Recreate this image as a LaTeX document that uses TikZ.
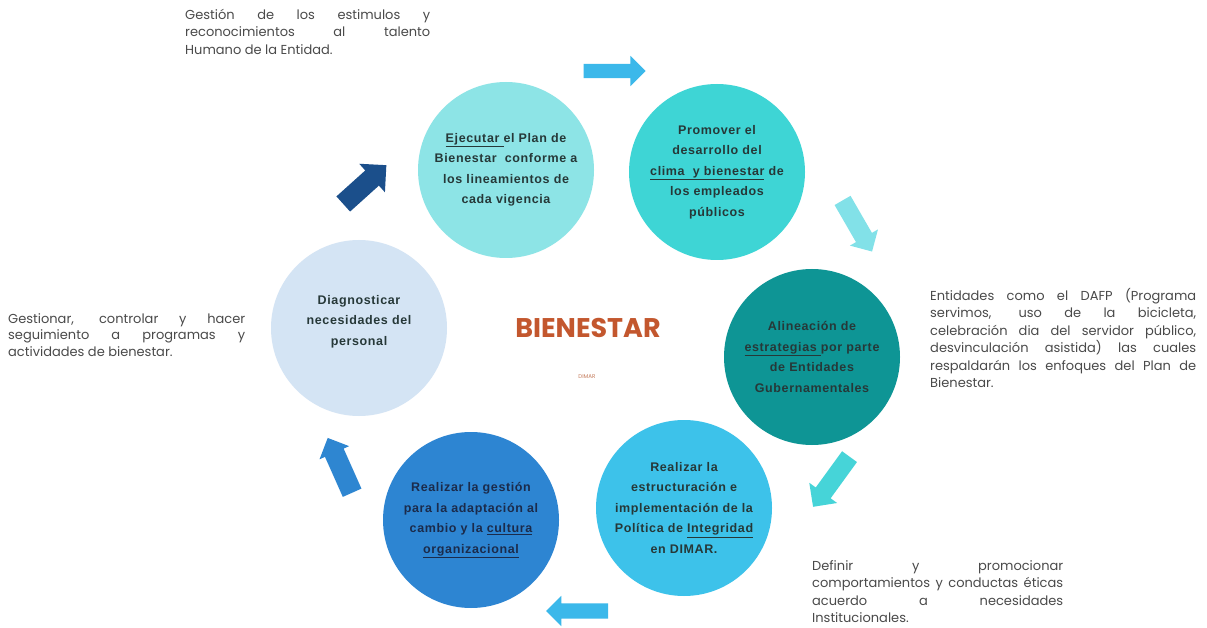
\documentclass[tikz,border=0pt]{standalone}
\usepackage{fontspec}
\setmainfont{Liberation Sans}
\newfontfamily\circfont{Liberation Sans}[LetterSpace=5]
\newfontfamily\sidefont{Poppins}
\usetikzlibrary{shapes.arrows}

\definecolor{cEjec}{HTML}{8DE4E6}
\definecolor{cProm}{HTML}{3ED5D5}
\definecolor{cAlin}{HTML}{0E9595}
\definecolor{cEstr}{HTML}{3DC2EA}
\definecolor{cGest}{HTML}{2D85D2}
\definecolor{cDiag}{HTML}{D4E4F4}
\definecolor{cText}{HTML}{263838}
\definecolor{cGestText}{HTML}{1B2B4B}
\definecolor{cBien}{HTML}{C3572E}
\definecolor{cDimar}{HTML}{C47A5A}
\definecolor{cSide}{HTML}{4A4A4A}
\definecolor{aTop}{HTML}{3BB8EA}
\definecolor{aDark}{HTML}{1B4F8B}
\definecolor{aRT}{HTML}{82E1E8}
\definecolor{aRB}{HTML}{46D4D8}
\definecolor{aLeft}{HTML}{2E86D1}

\newcommand\jline[2]{\makebox[#1][s]{#2}}

\begin{document}
\begin{tikzpicture}[x=1pt, y=-1pt,
    bubble/.style={circle, minimum size=176pt, inner sep=0pt, align=center,
        font=\circfont\bfseries\fontsize{12.5}{20.5}\selectfont, text=cText},
    blockarrow/.style n args={3}{single arrow, minimum height=#1, inner xsep=0pt,
        inner ysep=#2/2, single arrow head extend=(#3-#2)/2},
    side/.style={anchor=north west, inner sep=0pt, align=left, text=cSide,
        font=\sidefont\fontsize{13}{17.5}\selectfont}]
    \fill[white] (0,0) rectangle (1207,628);
    \useasboundingbox (0,0) rectangle (1207,628);

    \node[bubble, fill=cEjec] (ejec) at (506,170)
        {\underline{Ejecutar\ }el Plan de\\Bienestar\ \ conforme a\\los lineamientos de\\cada vigencia};
    \node[bubble, fill=cProm] (prom) at (717,172)
        {Promover el\\desarrollo del\\\underline{clima\ \ y bienestar} de\\los empleados\\públicos};
    \node[bubble, fill=cAlin] (alin) at (812,357)
        {Alineación de\\\underline{estrategias\ }por parte\\de Entidades\\Gubernamentales};
    \node[bubble, fill=cEstr] (estr) at (684,508)
        {Realizar la\\estructuración e\\implementación de la\\Política de \underline{Integridad}\\en DIMAR.};
    \node[bubble, fill=cGest, text=cGestText] (gest) at (471,520)
        {Realizar la gestión\\para la adaptación al\\cambio y la \underline{cultura}\\\underline{organizacional}};
    \node[bubble, fill=cDiag] (diag) at (359,328)
        {Diagnosticar\\necesidades del\\personal\\[-4.5pt]};

    \node[text=cBien, font=\sidefont\bfseries\fontsize{27}{27}\selectfont] (bien) at (588,328) {BIENESTAR};
    \node[text=cDimar, font=\sidefont\fontsize{5.5}{5.5}\selectfont] (dimar) at (587,377) {DIMAR};

    \node[blockarrow={62}{14}{30}, fill=aTop] (arTop) at (611,71) {};
    \node[blockarrow={58}{20}{38}, fill=aDark, rotate=42] (arDark) at (361,188) {};
    \node[blockarrow={59}{18}{32}, fill=aRT, rotate=-60] (arRT) at (855,222) {};
    \node[blockarrow={62}{18}{34}, fill=aRB, rotate=-126] (arRB) at (834,478) {};
    \node[blockarrow={62}{15}{30}, fill=aTop, rotate=180] (arBot) at (581,611) {};
    \node[blockarrow={60}{20}{32}, fill=aLeft, rotate=114] (arLeft) at (342,470) {};

    \node[side] (txtTop) at (185,9)
        {\jline{245pt}{Gestión de los estimulos y}\\
         \jline{245pt}{reconocimientos al talento}\\
         Humano de la Entidad.};
    \node[side, font=\sidefont\fontsize{13}{16.5}\selectfont] (txtLeft) at (8,313)
        {\jline{237pt}{Gestionar, controlar y hacer}\\
         \jline{237pt}{seguimiento a programas y}\\
         actividades de bienestar.};
    \node[side] (txtRight) at (930,288)
        {\jline{266pt}{Entidades como el DAFP (Programa}\\
         \jline{266pt}{servimos, uso de la bicicleta,}\\
         \jline{266pt}{celebración dia del servidor público,}\\
         \jline{266pt}{desvinculación asistida) las cuales}\\
         \jline{266pt}{respaldarán los enfoques del Plan de}\\
         Bienestar.};
    \node[side] (txtBot) at (812,560)
        {\jline{251pt}{Definir y promocionar}\\
         \jline{251pt}{comportamientos y conductas éticas}\\
         \jline{251pt}{acuerdo a necesidades}\\
         Institucionales.};
\end{tikzpicture}
\end{document}
